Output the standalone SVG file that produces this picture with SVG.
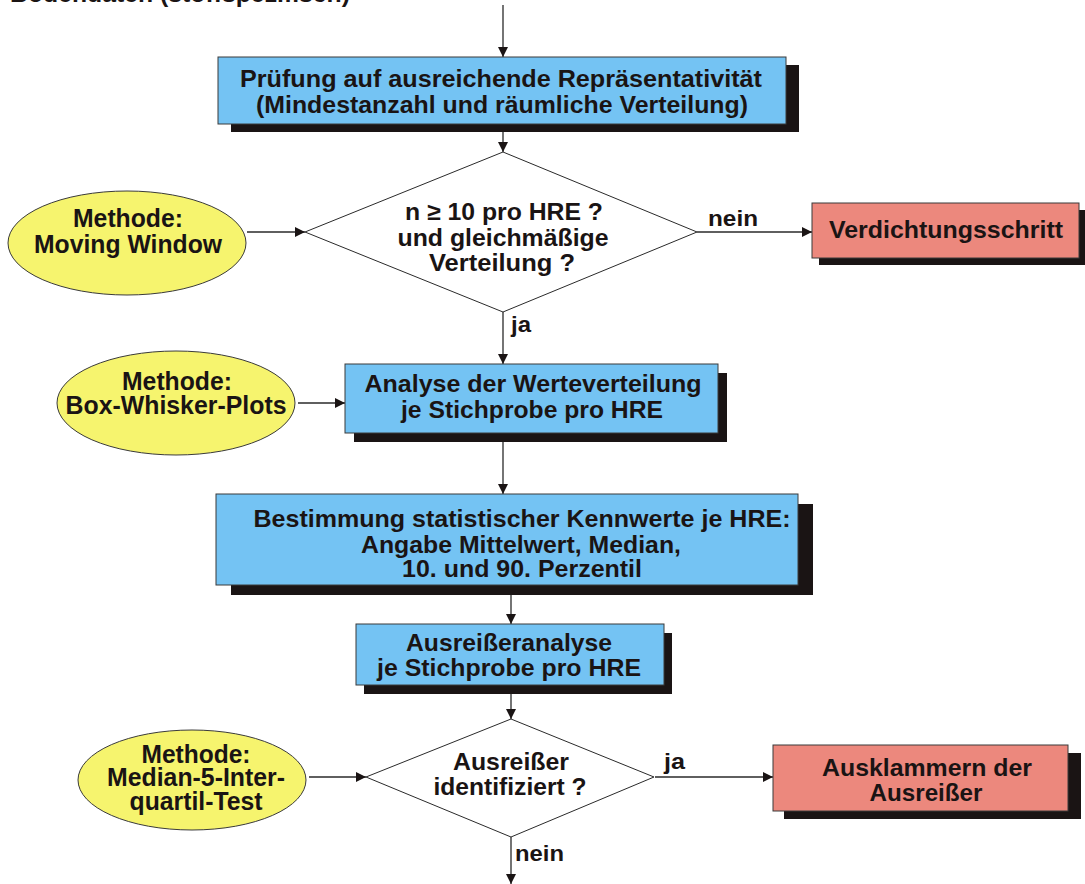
<svg xmlns="http://www.w3.org/2000/svg" width="1085" height="884" viewBox="0 0 1085 884">
  <defs>
    <marker id="arrow" viewBox="0 0 10 10" refX="10" refY="5" markerWidth="10" markerHeight="10" markerUnits="userSpaceOnUse" orient="auto">
      <path d="M0,0 L10,5 L0,10 z" fill="#1a1414"/>
    </marker>
    <style>
      text { font-family: "Liberation Sans", Arial, sans-serif; font-weight: bold; font-size: 24px; fill: #1a1414; text-anchor: middle; }
      .lbl { text-anchor: start; font-size: 22px; }
      .meth { font-size: 25px; }
      .blue { fill: #74c3f3; stroke: #3a3a3a; stroke-width: 1; }
      .red { fill: #ec887d; stroke: #3a3a3a; stroke-width: 1; }
      .yel { fill: #f6f46e; stroke: #3a3a3a; stroke-width: 1; }
      .dia { fill: #ffffff; stroke: #2a2a2a; stroke-width: 1; }
      .shadow { fill: #1a1414; }
      .conn line { stroke: #2a2a2a; stroke-width: 1.3; marker-end: url(#arrow); }
    </style>
  </defs>
  <rect width="1085" height="884" fill="#ffffff"/>

  <!-- heading, cut at the top edge -->
  <text x="10" y="2" style="text-anchor:start" textLength="340" lengthAdjust="spacingAndGlyphs">Bodendaten (stoffspezifisch)</text>

  <!-- connectors -->
  <g id="connectors" class="conn">
    <line x1="503" y1="5" x2="503" y2="57"/>
    <line x1="503" y1="124" x2="503" y2="152"/>
    <line x1="247" y1="232" x2="305" y2="232"/>
    <line x1="697" y1="232" x2="812" y2="232"/>
    <line x1="503" y1="312" x2="503" y2="364"/>
    <line x1="298" y1="403" x2="345" y2="403"/>
    <line x1="503" y1="442" x2="503" y2="494"/>
    <line x1="511" y1="595" x2="511" y2="624"/>
    <line x1="511" y1="694" x2="511" y2="719"/>
    <line x1="309" y1="777" x2="366" y2="777"/>
    <line x1="655" y1="777" x2="773" y2="777"/>
    <line x1="511" y1="837" x2="511" y2="884"/>
  </g>

  <!-- connector labels -->
  <g id="labels">
    <text class="lbl" x="708" y="226" textLength="50" lengthAdjust="spacingAndGlyphs">nein</text>
    <text class="lbl" x="511" y="332" textLength="20" lengthAdjust="spacingAndGlyphs">ja</text>
    <text class="lbl" x="664" y="769" textLength="21" lengthAdjust="spacingAndGlyphs">ja</text>
    <text class="lbl" x="515" y="861" textLength="49" lengthAdjust="spacingAndGlyphs">nein</text>
  </g>

  <g id="pruefung">
    <rect class="shadow" x="231" y="65" width="568" height="67"/>
    <rect class="blue" x="218" y="57" width="568" height="67"/>
    <text x="501" y="87" textLength="522" lengthAdjust="spacingAndGlyphs">Prüfung auf ausreichende Repräsentativität</text>
    <text x="502" y="113" textLength="492" lengthAdjust="spacingAndGlyphs">(Mindestanzahl und räumliche Verteilung)</text>
  </g>

  <g id="entscheidung1">
    <polygon class="dia" points="503,152 697,232 503,312 305,232"/>
    <text x="504" y="220" textLength="198" lengthAdjust="spacingAndGlyphs">n ≥ 10 pro HRE ?</text>
    <text x="503" y="246" textLength="211" lengthAdjust="spacingAndGlyphs">und gleichmäßige</text>
    <text x="502" y="271" textLength="146" lengthAdjust="spacingAndGlyphs">Verteilung ?</text>
  </g>

  <g id="moving-window">
    <ellipse class="yel" cx="127" cy="243" rx="119" ry="52"/>
    <text class="meth" x="128" y="227" textLength="110" lengthAdjust="spacingAndGlyphs">Methode:</text>
    <text class="meth" x="128" y="253" textLength="188" lengthAdjust="spacingAndGlyphs">Moving Window</text>
  </g>

  <g id="verdichtung">
    <rect class="shadow" x="819" y="210" width="266" height="55"/>
    <rect class="red" x="812" y="203" width="267" height="55"/>
    <text x="946" y="238" textLength="234" lengthAdjust="spacingAndGlyphs">Verdichtungsschritt</text>
  </g>

  <g id="box-whisker">
    <ellipse class="yel" cx="176" cy="403" rx="119" ry="52"/>
    <text class="meth" x="177" y="390" textLength="110" lengthAdjust="spacingAndGlyphs">Methode:</text>
    <text class="meth" x="176" y="414" textLength="221" lengthAdjust="spacingAndGlyphs">Box-Whisker-Plots</text>
  </g>

  <g id="werteverteilung">
    <rect class="shadow" x="354" y="373" width="373" height="69"/>
    <rect class="blue" x="345" y="364" width="373" height="69"/>
    <text x="533" y="392" textLength="337" lengthAdjust="spacingAndGlyphs">Analyse der Werteverteilung</text>
    <text x="532" y="418" textLength="262" lengthAdjust="spacingAndGlyphs">je Stichprobe pro HRE</text>
  </g>

  <g id="kennwerte">
    <rect class="shadow" x="231" y="504" width="582" height="91"/>
    <rect class="blue" x="216" y="494" width="582" height="91"/>
    <text x="522" y="527" textLength="537" lengthAdjust="spacingAndGlyphs">Bestimmung statistischer Kennwerte je HRE:</text>
    <text x="521" y="553" textLength="320" lengthAdjust="spacingAndGlyphs">Angabe Mittelwert, Median,</text>
    <text x="522" y="577" textLength="240" lengthAdjust="spacingAndGlyphs">10. und 90. Perzentil</text>
  </g>

  <g id="ausreisseranalyse">
    <rect class="shadow" x="364" y="633" width="308" height="61"/>
    <rect class="blue" x="356" y="624" width="308" height="61"/>
    <text x="509" y="651" textLength="206" lengthAdjust="spacingAndGlyphs">Ausreißeranalyse</text>
    <text x="509" y="676" textLength="264" lengthAdjust="spacingAndGlyphs">je Stichprobe pro HRE</text>
  </g>

  <g id="entscheidung2">
    <polygon class="dia" points="511,719 654,777 511,837 366,777"/>
    <text x="511" y="770" textLength="116" lengthAdjust="spacingAndGlyphs">Ausreißer</text>
    <text x="510" y="795" textLength="153" lengthAdjust="spacingAndGlyphs">identifiziert ?</text>
  </g>

  <g id="interquartil">
    <ellipse class="yel" cx="192" cy="780" rx="114" ry="50"/>
    <text class="meth" x="196" y="763" textLength="109" lengthAdjust="spacingAndGlyphs">Methode:</text>
    <text class="meth" x="196" y="786" textLength="178" lengthAdjust="spacingAndGlyphs">Median-5-Inter-</text>
    <text class="meth" x="196" y="810" textLength="133" lengthAdjust="spacingAndGlyphs">quartil-Test</text>
  </g>

  <g id="ausklammern">
    <rect class="shadow" x="784" y="753" width="297" height="66"/>
    <rect class="red" x="773" y="745" width="295" height="66"/>
    <text x="927" y="776" textLength="210" lengthAdjust="spacingAndGlyphs">Ausklammern der</text>
    <text x="926" y="801" textLength="113" lengthAdjust="spacingAndGlyphs">Ausreißer</text>
  </g>
</svg>
